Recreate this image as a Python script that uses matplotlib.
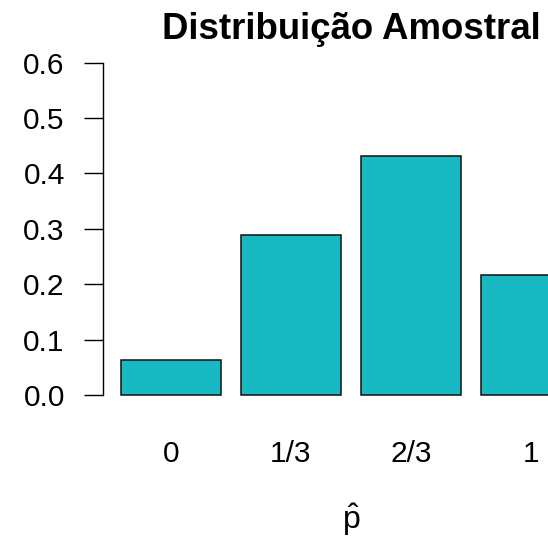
import matplotlib
matplotlib.use("Agg")
import matplotlib.pyplot as plt
import numpy as np

# sampling distribution of p-hat (n = 3, p = 0.6)
phat_labels = ["0", "1/3", "2/3", "1"]
probs = [0.064, 0.288, 0.432, 0.216]
yticks = [0.0, 0.1, 0.2, 0.3, 0.4, 0.5, 0.6]

BAR_COLOR = "#18b9c2"

plt.rcParams["font.family"] = ["Liberation Sans", "DejaVu Sans"]
plt.rcParams["mathtext.fontset"] = "custom"
plt.rcParams["mathtext.rm"] = "Liberation Sans"
plt.rcParams["mathtext.it"] = "Liberation Sans"

W, H = 548, 537
fig = plt.figure(figsize=(W / 100, H / 100), dpi=100)

# R barplot geometry: width 1, space 0.2, 4% axis extension
n = len(probs)
space = 0.2
centers = space + 0.5 + np.arange(n) * (1 + space)
xlo, xhi = space, n * (1 + space)
xpad = 0.04 * (xhi - xlo)
ylo, yhi = 0.0, 0.6
ypad = 0.04 * (yhi - ylo)

# axes placed in pixels; right side runs past the image edge (cropped)
left_px, right_px = 102.6, 599.4
top_px, bottom_px = 49.4, 408.3
ax = fig.add_axes([left_px / W, 1 - bottom_px / H,
                   (right_px - left_px) / W, (bottom_px - top_px) / H])
ax.set_xlim(xlo - xpad, xhi + xpad)
ax.set_ylim(ylo - ypad, yhi + ypad)

ax.bar(centers, probs, width=1.0, color=BAR_COLOR, edgecolor="#111111",
       linewidth=1.1, clip_on=False)

for side in ["top", "right", "bottom"]:
    ax.spines[side].set_visible(False)
ax.spines["left"].set_bounds(yticks[0], yticks[-1])
ax.spines["left"].set_linewidth(1.0)

ax.set_yticks(yticks)
ax.set_yticklabels([f"{v:.1f}" for v in yticks])
ax.tick_params(axis="y", length=13.7, width=1.0, pad=13.5, labelsize=21.5)

ax.set_xticks(centers)
ax.set_xticklabels(phat_labels)
ax.tick_params(axis="x", length=0, pad=23, labelsize=21.5)

ax.set_xlabel(r"$\hat{\mathrm{p}}$", fontsize=23, labelpad=24)
ax.set_title("Distribuição Amostral", fontsize=26.4, fontweight="bold", pad=7.5)

fig.savefig("out.png", dpi=100)
